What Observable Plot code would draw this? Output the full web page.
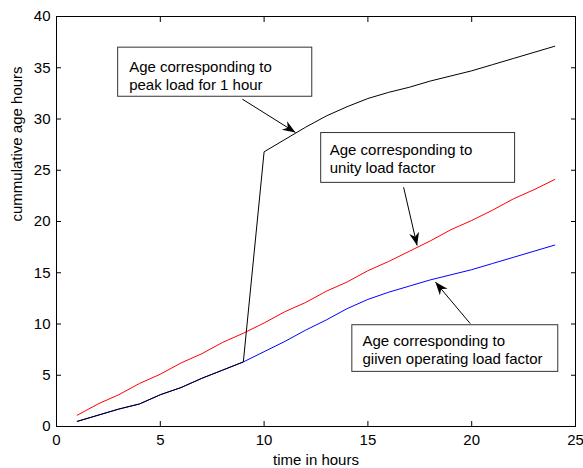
<!DOCTYPE html>
<html><head><meta charset="utf-8">
<script src="https://cdn.jsdelivr.net/npm/d3@7"></script>
<script src="https://cdn.jsdelivr.net/npm/@observablehq/plot@0.6"></script>
<style>
html,body{margin:0;padding:0;background:#fff;}
#chart{width:583px;height:468px;}
svg{overflow:visible;}
</style></head><body><div id="chart"></div>
<script>
// ---- data ----
const hours = [1,2,3,4,5,6,7,8,9,10,11,12,13,14,15,16,17,18,19,20,21,22,23,24];
const unityLoad = [1.1,2.2,3.1,4.2,5.1,6.2,7.1,8.2,9.1,10.1,11.2,12.1,13.2,14.1,15.2,16.1,17.1,18.1,19.2,20.1,21.1,22.2,23.1,24.1];
const operatingLoad = [0.5,1.1,1.7,2.2,3.1,3.8,4.7,5.5,6.3,7.3,8.3,9.4,10.4,11.5,12.4,13.1,13.7,14.3,14.8,15.3,15.9,16.5,17.1,17.7];
const peakLoad = [0.5,1.1,1.7,2.2,3.1,3.8,4.7,5.5,6.3,26.8,28.0,29.2,30.3,31.2,32.0,32.6,33.1,33.7,34.2,34.7,35.3,35.9,36.5,37.1];
const xTicks = [0,5,10,15,20,25];
const yTicks = [0,5,10,15,20,25,30,35,40];
const xLabel = "time in hours";
const yLabel = "cummulative age hours";

// annotations (data coordinates)
const noteText = ["Age corresponding to\npeak load for 1 hour", "Age corresponding to\nunity load factor", "Age corresponding to\ngiiven operating load factor"];
const noteTextX = [3.5, 13.16, 14.74];
const noteTextY = [34.26, 26.18, 7.5];
const boxX1 = [2.97, 12.75, 14.25];
const boxX2 = [12.32, 22.09, 24.17];
const boxY1 = [32.17, 23.77, 5.33];
const boxY2 = [36.96, 28.63, 9.88];
const arrowX1 = [8.95, 16.72, 19.93];
const arrowY1 = [31.94, 23.34, 10.04];
const arrowX2 = [11.51, 17.37, 18.25];
const arrowY2 = [28.69, 17.66, 14.09];

// ---- layout ----
const W = 583, H = 468, mL = 56, mR = 8, mT = 16, mB = 42;
const font = "'Liberation Sans', Arial, Helvetica, sans-serif";

const rows = (ys) => hours.map((h, i) => ({x: h, y: ys[i]}));
const idx = noteText.map((_, i) => i);

const sx = Plot.scale({x: {domain: [0, 25], range: [mL, W - mR]}});
const sy = Plot.scale({y: {domain: [0, 40], range: [H - mB, mT]}});
const headAngle = idx.map(i => {
  const dx = sx.apply(arrowX2[i]) - sx.apply(arrowX1[i]);
  const dy = sy.apply(arrowY2[i]) - sy.apply(arrowY1[i]);
  return Math.atan2(dx, -dy) * 180 / Math.PI;
});
const arrowHead = {
  draw(ctx) {
    ctx.moveTo(0, 0);
    ctx.lineTo(-5, 13);
    ctx.lineTo(0, 9);
    ctx.lineTo(5, 13);
    ctx.closePath();
  }
};

const chart = Plot.plot({
  width: W, height: H,
  marginLeft: mL, marginRight: mR, marginTop: mT, marginBottom: mB,
  style: {fontFamily: font, fontSize: "15px", background: "#fff", color: "#000"},
  x: {domain: [0, 25]},
  y: {domain: [0, 40]},
  marks: [
    Plot.line(rows(unityLoad), {x: "x", y: "y", stroke: "#ff0000", strokeWidth: 1}),
    Plot.line(rows(operatingLoad), {x: "x", y: "y", stroke: "#0000ff", strokeWidth: 1}),
    Plot.line(rows(peakLoad), {x: "x", y: "y", stroke: "#000000", strokeWidth: 1}),
    Plot.frame({stroke: "#000", strokeWidth: 1}),
    Plot.axisX(xTicks, {anchor: "bottom", tickSize: 0, tickPadding: 8, fontSize: 15, label: null}),
    Plot.axisX(xTicks, {anchor: "bottom", text: null, tickSize: 5, dy: -5, label: null}),
    Plot.axisX(xTicks, {anchor: "top", text: null, tickSize: 5, dy: 5, label: null}),
    Plot.axisY(yTicks, {anchor: "left", tickSize: 0, tickPadding: 6, fontSize: 15, label: null}),
    Plot.axisY(yTicks, {anchor: "left", text: null, tickSize: 5, dx: 5, label: null}),
    Plot.axisY(yTicks, {anchor: "right", text: null, tickSize: 5, dx: -5, label: null}),
    Plot.text([xLabel], {frameAnchor: "bottom", dy: 34, lineAnchor: "middle", fontSize: 15, fill: "#000"}),
    Plot.text([yLabel], {frameAnchor: "left", dx: -39, rotate: -90, lineAnchor: "middle", fontSize: 15, fill: "#000"}),
    Plot.rect(idx, {x1: i => boxX1[i], x2: i => boxX2[i], y1: i => boxY1[i], y2: i => boxY2[i], fill: "#fff", stroke: "#333", strokeWidth: 1}),
    Plot.text(idx, {x: i => noteTextX[i], y: i => noteTextY[i], text: i => noteText[i], textAnchor: "start", lineAnchor: "middle", lineHeight: 1.2, fontSize: 15, fill: "#000"}),
    Plot.link(idx, {x1: i => arrowX1[i], y1: i => arrowY1[i], x2: i => arrowX2[i], y2: i => arrowY2[i], stroke: "#000", strokeWidth: 1}),
    Plot.dot(idx, {x: i => arrowX2[i], y: i => arrowY2[i], rotate: i => headAngle[i], symbol: arrowHead, fill: "#000", stroke: "none", r: 5})
  ]
});
document.getElementById("chart").appendChild(chart);
</script>
</body></html>
